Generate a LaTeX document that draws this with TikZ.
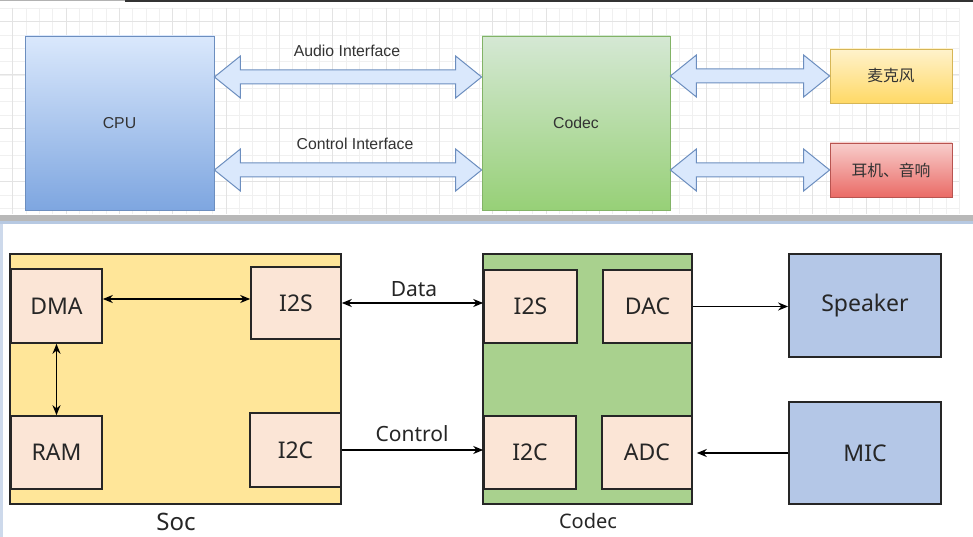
\documentclass[tikz,border=0pt]{standalone}
\usepackage{fontspec}
\setmainfont{Liberation Sans}
\newfontfamily\cjk{Noto Sans CJK SC}
\newfontfamily\noto{Noto Sans}
\usetikzlibrary{calc,arrows.meta}
\definecolor{bluetop}{HTML}{DAE8FC}
\definecolor{bluebot}{HTML}{7EA6E0}
\definecolor{blueline}{HTML}{6C8EBF}
\definecolor{greentop}{HTML}{D5E8D4}
\definecolor{greenbot}{HTML}{97D077}
\definecolor{greenline}{HTML}{82B366}
\definecolor{yeltop}{HTML}{FFF2CC}
\definecolor{yelbot}{HTML}{FFD966}
\definecolor{yelline}{HTML}{D6B656}
\definecolor{redtop}{HTML}{F8CECC}
\definecolor{redbot}{HTML}{EA6B66}
\definecolor{redline}{HTML}{B85450}
\definecolor{socfill}{HTML}{FFE699}
\definecolor{codfill}{HTML}{A9D18E}
\definecolor{peach}{HTML}{FBE5D6}
\definecolor{periph}{HTML}{B4C7E7}
\definecolor{edge}{HTML}{262626}
\definecolor{sepblue}{HTML}{B7C9E2}
\newcommand{\dblarrow}[3]{%
  \draw[bigarrow] (#1.east |- #3) -- ++(26,-21) -- ++(0,14)
    -- ($(#2.west |- #3)+(-26,-7)$) -- ++(0,-14) -- (#2.west |- #3)
    -- ++(-26,21) -- ++(0,-14) -- ($(#1.east |- #3)+(26,7)$) -- ++(0,14) -- cycle;}
\begin{document}
\begin{tikzpicture}[x=1pt,y=-1pt,
  topbox/.style={rectangle, line width=0.8pt, inner sep=0pt,
    font=\fontsize{15.8}{18}\selectfont, text=black!80},
  bigarrow/.style={fill=bluetop, draw=blueline, line width=1pt, line join=miter},
  toplabel/.style={font=\fontsize{15.8}{18}\selectfont, text=black!80, inner sep=0pt},
  outer/.style={rectangle, draw=edge, line width=1.8pt, inner sep=0pt},
  inbox/.style={rectangle, draw=edge, line width=1.6pt, fill=peach, inner sep=0pt,
    font=\noto\fontsize{23}{27}\selectfont, text=black!85},
  pbox/.style={rectangle, draw=edge, line width=1.8pt, fill=periph, inner sep=0pt,
    font=\noto\fontsize{23}{27}\selectfont, text=black!85},
  botlabel/.style={font=\noto\fontsize{21}{24}\selectfont, text=black!85, inner sep=0pt},
  conn/.style={line width=1.7pt, black},
  tip/.tip={Stealth[length=10pt,width=8pt]},
  minorgrid/.style={draw=black!6, line width=0.6pt},
  majorgrid/.style={draw=black!11, line width=0.7pt}]
\useasboundingbox (0,0) rectangle (973,537);
\fill[white] (0,0) rectangle (973,537);
% ---------- top panel grid ----------
\foreach \i in {0,...,71} \draw[minorgrid] ({12.7+13.333*\i},8) -- ++(0,206);
\foreach \j in {0,...,15} \draw[minorgrid] (0,{8.3+13.333*\j}) -- (959,{8.3+13.333*\j});
\foreach \i in {0,...,17} \draw[majorgrid] ({12.7+53.333*\i},8) -- ++(0,206);
\foreach \j in {0,...,3} \draw[majorgrid] (0,{21.4+53.333*\j}) -- (959,{21.4+53.333*\j});
% frame lines
\draw[black!30, line width=1pt] (0,0.5) -- (125,0.5);
\draw[black!80, line width=1.6pt] (125,0.8) -- (973,0.8);
\fill[black!28] (0,215) rectangle (973,221);
\fill[sepblue] (0,221) rectangle (973,224);
\fill[sepblue!70] (0,224) rectangle (2.5,537);
% ---------- top diagram ----------
\node[topbox, draw=blueline, top color=bluetop, bottom color=bluebot,
  minimum width=189pt, minimum height=174pt] (cpu) at (119.5,123) {CPU};
\node[topbox, draw=greenline, top color=greentop, bottom color=greenbot,
  minimum width=188pt, minimum height=174pt] (codec) at (576,123) {Codec};
\node[topbox, draw=yelline, top color=yeltop, bottom color=yelbot,
  minimum width=122pt, minimum height=54pt, font=\cjk\fontsize{15.8}{18}\selectfont] (mic) at (891,76) {麦克风};
\node[topbox, draw=redline, top color=redtop, bottom color=redbot,
  minimum width=122pt, minimum height=54pt, font=\cjk\fontsize{15.8}{18}\selectfont] (phones) at (891,170) {耳机、音响};
\node[toplabel] (audio) at (347,51) {Audio Interface};
\node[toplabel] (control) at (355,144) {Control Interface};
\coordinate (audy) at (0,77);
\coordinate (ctly) at (0,170);
\dblarrow{cpu}{codec}{audy}
\dblarrow{cpu}{codec}{ctly}
\dblarrow{codec}{mic}{mic}
\dblarrow{codec}{phones}{phones}
% ---------- bottom diagram ----------
\node[outer, fill=socfill, minimum width=331pt, minimum height=250pt] (soc) at (175.5,379) {};
\node[outer, fill=codfill, minimum width=209pt, minimum height=250pt] (cdc) at (587.5,379) {};
\node[inbox, minimum width=91pt, minimum height=74pt] (dma) at (56.5,306) {DMA};
\node[inbox, minimum width=90pt, minimum height=72pt] (i2ss) at (296,303) {I2S};
\node[inbox, minimum width=91pt, minimum height=73pt] (ram) at (56.5,452.5) {RAM};
\node[inbox, minimum width=91pt, minimum height=74pt] (i2cs) at (295.5,450) {I2C};
\node[inbox, minimum width=93pt, minimum height=73pt] (i2sc) at (530.5,306.5) {I2S};
\node[inbox, minimum width=89pt, minimum height=73pt] (dac) at (647.5,306.5) {DAC};
\node[inbox, minimum width=92pt, minimum height=73pt] (i2cc) at (530,452.5) {I2C};
\node[inbox, minimum width=90pt, minimum height=73pt] (adc) at (647,452.5) {ADC};
\node[pbox, minimum width=152pt, minimum height=103pt] (spk) at (865,305.5) {Speaker};
\node[pbox, minimum width=152pt, minimum height=102pt] (mc) at (865,453) {MIC};
\node[botlabel, font=\noto\fontsize{24}{28}\selectfont] (soclbl) at (176,522) {Soc};
\node[botlabel, font=\noto\fontsize{20}{24}\selectfont] (cdclbl) at (588,521) {Codec};
\node[botlabel] (datalbl) at (414,289) {Data};
\node[botlabel] (ctllbl) at (412,434) {Control};
\draw[conn, {tip}-{tip}] ([yshift=7pt]dma.east) -- ([yshift=7pt]dma.east -| i2ss.west);
\draw[conn, {tip}-{tip}] (dma.south) -- (ram.north);
\draw[conn, {tip}-{tip}] (i2ss.east) -- (i2ss.east -| i2sc.west);
\draw[conn, -{tip}] (i2cs.east) -- (i2cs.east -| i2cc.west);
\draw[conn, -{tip}] (dac.east) -- (dac.east -| spk.west);
\draw[conn, -{tip}, shorten >=4pt] (mc.west) -- (mc.west -| adc.east);
\end{tikzpicture}
\end{document}
